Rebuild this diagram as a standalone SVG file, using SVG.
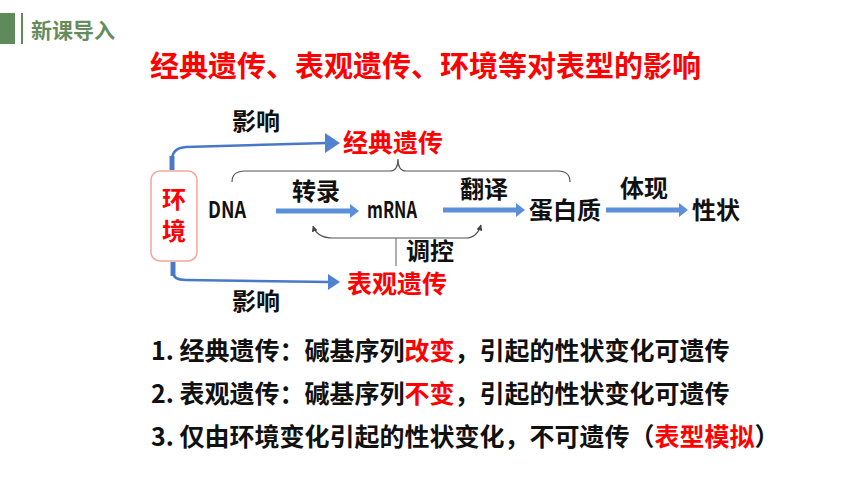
<svg xmlns="http://www.w3.org/2000/svg" width="860" height="484" viewBox="0 0 860 484">
<style>
  text { font-family: "Noto Sans CJK SC", "Noto Sans", sans-serif; font-weight: bold; }
  .lbl { font-size: 24px; fill: #111; }
  .red { fill: #ff0000; }
  .blk { fill: #111; }
  .line { font-size: 25px; fill: #111; }
  .flow { stroke: #5b8fd8; stroke-width: 5; fill: none; }
  .head { fill: #5b8fd8; }
  .env { stroke: #4a78c8; fill: none; }
  .envhead { fill: #4f82d0; }
  .brace { stroke: #555; stroke-width: 1.2; fill: none; }
</style>
<defs>
  <marker id="sm" viewBox="0 0 6 6" refX="5.5" refY="3" markerWidth="6" markerHeight="6" markerUnits="userSpaceOnUse" orient="auto-start-reverse">
    <path d="M0,0 L6,3 L0,6 z" fill="#444"/>
  </marker>
</defs>
<rect width="860" height="484" fill="#ffffff"/>

<g id="header">
  <rect x="0" y="13" width="15" height="31" fill="#5f8a5c"/>
  <rect x="21" y="13" width="2" height="31" fill="#5f8a5c"/>
  <text x="31" y="38" font-size="21" fill="#668c5e">新课导入</text>
</g>

<g id="title">
  <text x="150" y="77" font-size="29" class="red">经典遗传、表观遗传、环境等对表型的影响</text>
</g>

<g id="connectors">
  <!-- environment to classical genetics -->
  <path class="env" stroke-width="2.5" d="M172,160 Q172,148 186,147 L327,143"/>
  <path class="env" stroke-width="5" d="M172,170 V156"/>
  <polygon class="envhead" points="325,133 340,143 325,153"/>
  <!-- environment to epigenetics -->
  <path class="env" stroke-width="2.5" d="M173,272 Q173,280 186,280 L330,282"/>
  <path class="env" stroke-width="5" d="M173,262 V276"/>
  <polygon class="envhead" points="328,274 340,282 328,290"/>
  <!-- flow arrows -->
  <line class="flow" x1="276" y1="211" x2="352" y2="211"/>
  <polygon class="head" points="350,204 359,211 350,218"/>
  <line class="flow" x1="443" y1="210" x2="518" y2="210"/>
  <polygon class="head" points="516,203 525,210 516,217"/>
  <line class="flow" x1="606" y1="210" x2="681" y2="210"/>
  <polygon class="head" points="679,203 688,210 679,217"/>
  <!-- top brace -->
  <path class="brace" d="M232,182 Q232,171 245,171 L390,171 Q398,171 398,159 Q398,171 406,171 L558,171 Q570,171 570,182"/>
  <!-- lower bracket with arrows -->
  <path class="brace" d="M313,226 Q317,238 333,238 L466,238 Q477,238 481,225" marker-start="url(#sm)" marker-end="url(#sm)"/>
  <line x1="396" y1="238" x2="396" y2="266" stroke="#777" stroke-width="1.2"/>
</g>

<g id="env">
  <rect x="151" y="171" width="46" height="90" rx="9" fill="#ffffff" stroke="#f2a79e" stroke-width="1.5"/>
  <text x="174" y="208" font-size="24" class="red" text-anchor="middle">环</text>
  <text x="174" y="240" font-size="24" class="red" text-anchor="middle">境</text>
</g>

<g id="influence-top">
  <text x="256" y="130" class="lbl" text-anchor="middle">影响</text>
</g>
<g id="classical">
  <text x="393" y="152" font-size="25" class="red" text-anchor="middle">经典遗传</text>
</g>
<g id="epigenetic">
  <text x="397" y="293" font-size="25" class="red" text-anchor="middle">表观遗传</text>
</g>
<g id="influence-bottom">
  <text x="256" y="310" class="lbl" text-anchor="middle">影响</text>
</g>

<g id="dna">
  <text x="208" y="218" font-size="23" class="blk" textLength="38" lengthAdjust="spacingAndGlyphs">DNA</text>
</g>
<g id="transcription">
  <text x="316" y="200" class="lbl" text-anchor="middle">转录</text>
</g>
<g id="mrna">
  <text x="367" y="218" font-size="23" class="blk" textLength="50" lengthAdjust="spacingAndGlyphs">mRNA</text>
</g>
<g id="translation">
  <text x="484" y="198" class="lbl" text-anchor="middle">翻译</text>
</g>
<g id="protein">
  <text x="565" y="219" class="lbl" text-anchor="middle">蛋白质</text>
</g>
<g id="express">
  <text x="644" y="197" class="lbl" text-anchor="middle">体现</text>
</g>
<g id="trait">
  <text x="716" y="219" class="lbl" text-anchor="middle">性状</text>
</g>
<g id="regulate">
  <text x="430" y="260" class="lbl" text-anchor="middle">调控</text>
</g>

<g id="notes">
  <text x="151" y="360" class="line">1. 经典遗传：碱基序列<tspan class="red">改变</tspan>，引起的性状变化可遗传</text>
  <text x="151" y="403" class="line">2. 表观遗传：碱基序列<tspan class="red">不变</tspan>，引起的性状变化可遗传</text>
  <text x="151" y="446" class="line">3. 仅由环境变化引起的性状变化，不可遗传（<tspan class="red">表型模拟</tspan>）</text>
</g>
</svg>
